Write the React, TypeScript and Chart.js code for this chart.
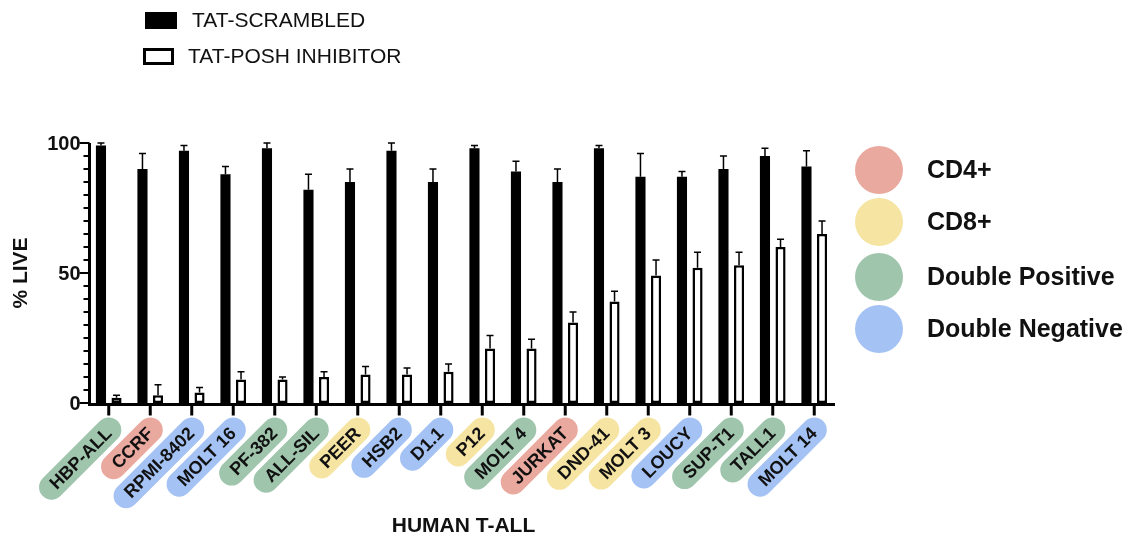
import React, { useEffect, useRef } from "react";
import { Chart, registerables } from "chart.js";

Chart.register(...registerables);

const categories = [
  "HBP-ALL", "CCRF", "RPMI-8402", "MOLT 16", "PF-382", "ALL-SIL", "PEER", "HSB2", "D1.1",
  "P12", "MOLT 4", "JURKAT", "DND-41", "MOLT 3", "LOUCY", "SUP-T1", "TALL1", "MOLT 14",
];
const subtypes = [
  "DP", "CD4", "DN", "DN", "DP", "DP", "CD8", "DN", "DN",
  "CD8", "DP", "CD4", "CD8", "CD8", "DN", "DP", "DP", "DN",
];
const scrambled = [99, 90, 97, 88, 98, 82, 85, 97, 85, 98, 89, 85, 98, 87, 87, 90, 95, 91];
const scrambledErr = [1, 6, 2, 3, 2, 6, 5, 3, 5, 1, 4, 5, 1, 9, 2, 5, 3, 6];
const inhibitor = [2, 3, 4, 9, 9, 10, 11, 11, 12, 21, 21, 31, 39, 49, 52, 53, 60, 65];
const inhibitorErr = [1, 4, 2, 3, 1, 2, 3, 2.5, 3, 5, 3.5, 4, 4, 6, 6, 5, 3, 5];
const yTicks = [0, 50, 100];
const seriesNames = ["TAT-SCRAMBLED", "TAT-POSH INHIBITOR"];
const subtypeKeys = ["CD4", "CD8", "DP", "DN"];
const subtypeNames = ["CD4+", "CD8+", "Double Positive", "Double Negative"];
const subtypeColors: Record<string, string> = {
  CD4: "#EAA99F",
  CD8: "#F6E4A2",
  DP: "#9FC5AD",
  DN: "#A4C2F4",
};

const FONT = '"Liberation Sans", Arial, Helvetica, sans-serif';

function pill(ctx: CanvasRenderingContext2D, x0: number, x1: number, h: number) {
  const r = h / 2;
  ctx.beginPath();
  ctx.moveTo(x0 + r, -r);
  ctx.lineTo(x1 - r, -r);
  ctx.arc(x1 - r, 0, r, -Math.PI / 2, Math.PI / 2);
  ctx.lineTo(x0 + r, r);
  ctx.arc(x0 + r, 0, r, Math.PI / 2, (3 * Math.PI) / 2);
  ctx.closePath();
  ctx.fill();
}

const decorPlugin = {
  id: "decor",
  afterDatasetsDraw(chart: any) {
    const ctx: CanvasRenderingContext2D = chart.ctx;
    const xs = chart.scales.x;
    const ys = chart.scales.y;
    const area = chart.chartArea;
    ctx.save();
    // error bars
    const errs = [scrambledErr, inhibitorErr];
    const vals = [scrambled, inhibitor];
    ctx.strokeStyle = "#000";
    ctx.lineWidth = 1.5;
    for (let d = 0; d < 2; d++) {
      const meta = chart.getDatasetMeta(d);
      meta.data.forEach((el: any, i: number) => {
        const yTop = ys.getPixelForValue(vals[d][i]);
        const yE = ys.getPixelForValue(vals[d][i] + errs[d][i]);
        ctx.beginPath();
        ctx.moveTo(el.x, yTop);
        ctx.lineTo(el.x, yE);
        ctx.moveTo(el.x - 3.5, yE);
        ctx.lineTo(el.x + 3.5, yE);
        ctx.stroke();
      });
    }
    // axes
    const ax = area.left + 1.5;
    const ay = area.bottom + 1.5;
    ctx.lineWidth = 3;
    ctx.beginPath();
    ctx.moveTo(ax, area.top);
    ctx.lineTo(ax, ay + 1.5);
    ctx.moveTo(area.left, ay);
    ctx.lineTo(area.right, ay);
    ctx.stroke();
    // y ticks
    ctx.lineWidth = 2;
    for (let v = 0; v <= 100; v += 5) {
      const y = ys.getPixelForValue(v);
      const major = yTicks.includes(v);
      ctx.beginPath();
      ctx.moveTo(ax - (major ? 10 : 6), y);
      ctx.lineTo(ax, y);
      ctx.stroke();
    }
    ctx.fillStyle = "#111";
    ctx.font = `bold 20px ${FONT}`;
    ctx.textAlign = "right";
    ctx.textBaseline = "middle";
    yTicks.forEach((v) => {
      ctx.fillText(String(v), ax - 9, ys.getPixelForValue(v) + 1);
    });
    // x ticks
    ctx.lineWidth = 3;
    categories.forEach((_, i) => {
      const x = xs.getPixelForValue(i);
      ctx.beginPath();
      ctx.moveTo(x, ay);
      ctx.lineTo(x, ay + 11);
      ctx.stroke();
    });
    ctx.restore();
  },
  afterDraw(chart: any) {
    const ctx: CanvasRenderingContext2D = chart.ctx;
    const xs = chart.scales.x;
    const ys = chart.scales.y;
    const area = chart.chartArea;
    ctx.save();
    // category pills
    ctx.font = `bold 18px ${FONT}`;
    categories.forEach((label, i) => {
      const x = xs.getPixelForValue(i);
      const w = ctx.measureText(label).width;
      ctx.save();
      ctx.translate(x - 1, area.bottom + 28);
      ctx.rotate(-Math.PI / 4);
      ctx.fillStyle = subtypeColors[subtypes[i]];
      pill(ctx, -w - 13, 14, 25);
      ctx.fillStyle = "#111";
      ctx.textAlign = "right";
      ctx.textBaseline = "middle";
      ctx.fillText(label, 1, 1);
      ctx.restore();
    });
    // axis titles
    ctx.fillStyle = "#111";
    ctx.font = `bold 21px ${FONT}`;
    ctx.textAlign = "center";
    ctx.textBaseline = "middle";
    ctx.fillText("HUMAN T-ALL", (area.left + area.right) / 2 + 2, 526);
    ctx.save();
    ctx.translate(21, ys.getPixelForValue(50));
    ctx.rotate(-Math.PI / 2);
    ctx.fillText("% LIVE", 0, 0);
    ctx.restore();
    // top legend
    ctx.fillStyle = "#000";
    ctx.fillRect(145, 12, 32, 17);
    ctx.strokeStyle = "#000";
    ctx.lineWidth = 3;
    ctx.strokeRect(144.5, 49.5, 28, 14);
    ctx.fillStyle = "#111";
    ctx.font = `21px ${FONT}`;
    ctx.textAlign = "left";
    ctx.fillText(seriesNames[0], 192, 21);
    ctx.fillText(seriesNames[1], 188, 57);
    // subtype legend
    const cy = [170, 222, 277, 329];
    ctx.font = `bold 25px ${FONT}`;
    subtypeKeys.forEach((k, i) => {
      ctx.fillStyle = subtypeColors[k];
      ctx.beginPath();
      ctx.arc(879, cy[i], 24, 0, Math.PI * 2);
      ctx.fill();
      ctx.fillStyle = "#111";
      ctx.fillText(subtypeNames[i], 927, cy[i] + 1);
    });
    ctx.restore();
  },
};

export default function App() {
  const ref = useRef<HTMLCanvasElement>(null);
  useEffect(() => {
    if (!ref.current) return;
    const chart = new Chart(ref.current, {
      type: "bar",
      data: {
        labels: categories,
        datasets: [
          {
            label: seriesNames[0],
            data: scrambled,
            backgroundColor: "#000",
            borderWidth: 0,
            categoryPercentage: 0.75,
            barPercentage: 0.65,
          },
          {
            label: seriesNames[1],
            data: inhibitor,
            backgroundColor: "#fff",
            borderColor: "#000",
            borderWidth: 2.5,
            borderSkipped: false,
            categoryPercentage: 0.75,
            barPercentage: 0.65,
          },
        ],
      },
      options: {
        animation: false,
        responsive: false,
        devicePixelRatio: 1,
        layout: { padding: { left: 88, right: 304, top: 143, bottom: 134 } },
        plugins: { legend: { display: false }, tooltip: { enabled: false } },
        scales: {
          x: { display: false, offset: true },
          y: { display: false, min: 0, max: 100 },
        },
      },
      plugins: [decorPlugin],
    });
    return () => chart.destroy();
  }, []);
  return (
    <div style={{ position: "absolute", left: 0, top: 0, width: 1139, height: 537, background: "#fff" }}>
      <canvas ref={ref} width={1139} height={537} />
    </div>
  );
}
